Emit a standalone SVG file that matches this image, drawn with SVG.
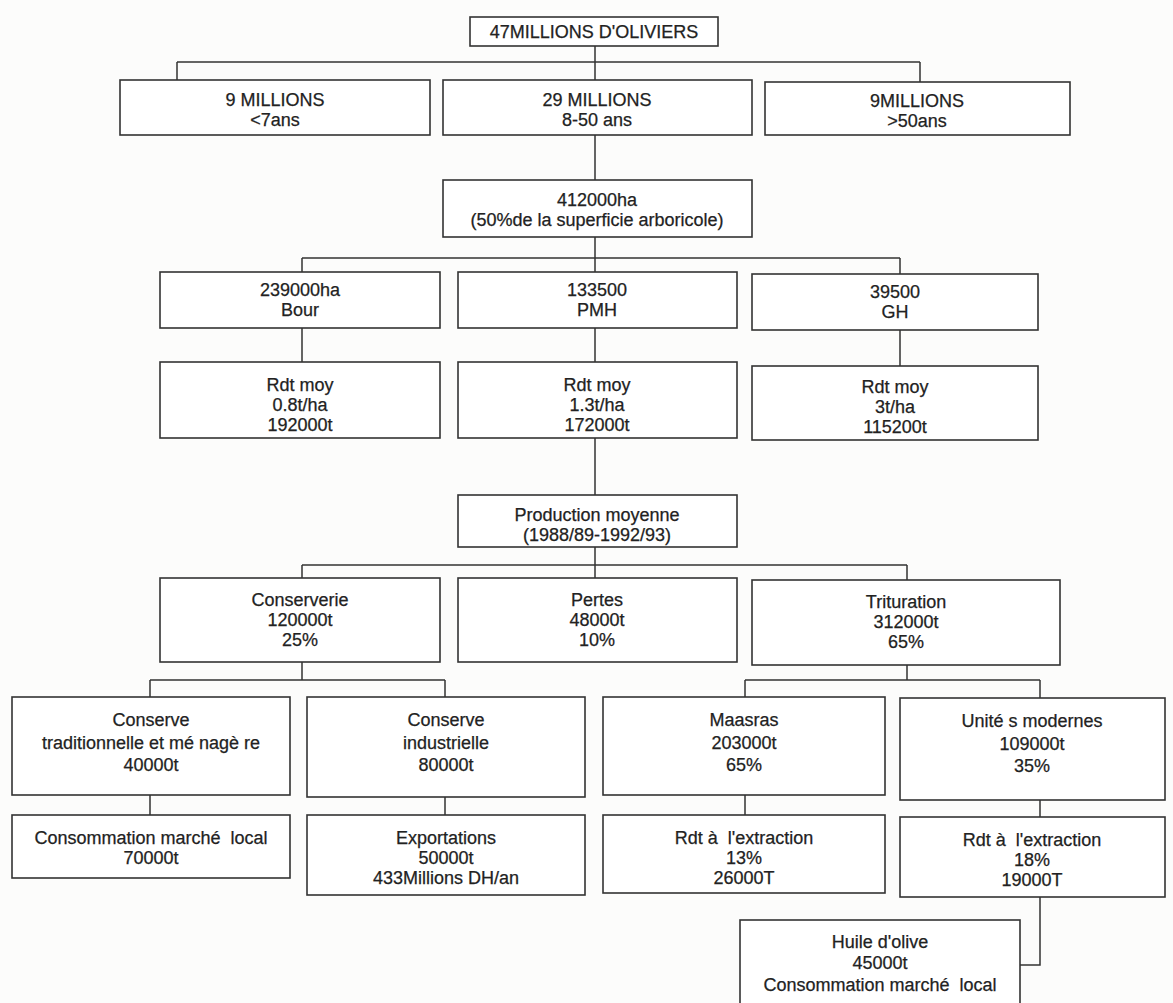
<svg xmlns="http://www.w3.org/2000/svg" width="1173" height="1003" viewBox="0 0 1173 1003">
<style>
.b{fill:#ffffff;stroke:#333;stroke-width:1.6}
.t{font-family:"Liberation Sans",Arial,sans-serif;font-size:18px;fill:#222;stroke:#222;stroke-width:0.25;text-anchor:middle}
.c{fill:none;stroke:#333;stroke-width:1.5}
</style>
<rect width="1173" height="1003" fill="#fcfcfb"/>
<g id="connectors">
<path class="c" d="M595 46V62M177 62H920M177 62V80M595 62V80M920 62V82"/>
<path class="c" d="M595 135V180"/>
<path class="c" d="M595 237V258M302 258H900M302 258V272M595 258V272M900 258V274"/>
<path class="c" d="M302 328V362M595 328V362M900 330V366"/>
<path class="c" d="M595 438V495"/>
<path class="c" d="M595 547V565M302 565H907M302 565V578M595 565V578M907 565V580"/>
<path class="c" d="M302 662V680M150 680H445M150 680V697M445 680V697"/>
<path class="c" d="M907 665V680M745 680H1040M745 680V697M1040 680V698"/>
<path class="c" d="M150 795V815M445 797V815M745 795V815M1040 800V817"/>
<path class="c" d="M1040 897V965H1020"/>
</g>
<g id="n0"><rect class="b" x="470" y="17" width="248" height="29"/><text class="t" x="594" y="38">47MILLIONS D'OLIVIERS</text></g>
<g id="n1a"><rect class="b" x="120" y="80" width="310" height="55"/><text class="t" x="275" y="106">9 MILLIONS</text><text class="t" x="275" y="126">&lt;7ans</text></g>
<g id="n1b"><rect class="b" x="443" y="80" width="309" height="55"/><text class="t" x="597" y="106">29 MILLIONS</text><text class="t" x="597" y="126">8-50 ans</text></g>
<g id="n1c"><rect class="b" x="765" y="82" width="305" height="53"/><text class="t" x="917" y="107">9MILLIONS</text><text class="t" x="917" y="127">&gt;50ans</text></g>
<g id="n2"><rect class="b" x="443" y="180" width="309" height="57"/><text class="t" x="597" y="206">412000ha</text><text class="t" x="597" y="226">(50%de la superficie arboricole)</text></g>
<g id="n3a"><rect class="b" x="160" y="272" width="280" height="56"/><text class="t" x="300" y="296">239000ha</text><text class="t" x="300" y="316">Bour</text></g>
<g id="n3b"><rect class="b" x="458" y="272" width="279" height="56"/><text class="t" x="597" y="296">133500</text><text class="t" x="597" y="316">PMH</text></g>
<g id="n3c"><rect class="b" x="752" y="274" width="286" height="56"/><text class="t" x="895" y="298">39500</text><text class="t" x="895" y="318">GH</text></g>
<g id="n4a"><rect class="b" x="160" y="362" width="280" height="76"/><text class="t" x="300" y="391">Rdt moy</text><text class="t" x="300" y="411">0.8t/ha</text><text class="t" x="300" y="431">192000t</text></g>
<g id="n4b"><rect class="b" x="458" y="362" width="279" height="76"/><text class="t" x="597" y="391">Rdt moy</text><text class="t" x="597" y="411">1.3t/ha</text><text class="t" x="597" y="431">172000t</text></g>
<g id="n4c"><rect class="b" x="752" y="366" width="286" height="74"/><text class="t" x="895" y="393">Rdt moy</text><text class="t" x="895" y="413">3t/ha</text><text class="t" x="895" y="433">115200t</text></g>
<g id="n5"><rect class="b" x="458" y="495" width="279" height="52"/><text class="t" x="597" y="521">Production moyenne</text><text class="t" x="597" y="541">(1988/89-1992/93)</text></g>
<g id="n6a"><rect class="b" x="160" y="578" width="280" height="84"/><text class="t" x="300" y="606">Conserverie</text><text class="t" x="300" y="626">120000t</text><text class="t" x="300" y="646">25%</text></g>
<g id="n6b"><rect class="b" x="458" y="578" width="279" height="84"/><text class="t" x="597" y="606">Pertes</text><text class="t" x="597" y="626">48000t</text><text class="t" x="597" y="646">10%</text></g>
<g id="n6c"><rect class="b" x="752" y="580" width="308" height="85"/><text class="t" x="906" y="608">Trituration</text><text class="t" x="906" y="628">312000t</text><text class="t" x="906" y="648">65%</text></g>
<g id="n7a"><rect class="b" x="12" y="697" width="278" height="98"/><text class="t" x="151" y="726">Conserve</text><text class="t" x="151" y="749">traditionnelle et mé nagè re</text><text class="t" x="151" y="771">40000t</text></g>
<g id="n7b"><rect class="b" x="307" y="697" width="278" height="100"/><text class="t" x="446" y="726">Conserve</text><text class="t" x="446" y="749">industrielle</text><text class="t" x="446" y="771">80000t</text></g>
<g id="n7c"><rect class="b" x="603" y="697" width="282" height="98"/><text class="t" x="744" y="726">Maasras</text><text class="t" x="744" y="749">203000t</text><text class="t" x="744" y="771">65%</text></g>
<g id="n7d"><rect class="b" x="900" y="698" width="265" height="102"/><text class="t" x="1032" y="727">Unité s modernes</text><text class="t" x="1032" y="750">109000t</text><text class="t" x="1032" y="772">35%</text></g>
<g id="n8a"><rect class="b" x="12" y="815" width="278" height="63"/><text class="t" x="151" y="844" xml:space="preserve">Consommation marché  local</text><text class="t" x="151" y="864">70000t</text></g>
<g id="n8b"><rect class="b" x="307" y="815" width="278" height="80"/><text class="t" x="446" y="844">Exportations</text><text class="t" x="446" y="864">50000t</text><text class="t" x="446" y="884">433Millions DH/an</text></g>
<g id="n8c"><rect class="b" x="603" y="815" width="282" height="78"/><text class="t" x="744" y="844" xml:space="preserve">Rdt à  l'extraction</text><text class="t" x="744" y="864">13%</text><text class="t" x="744" y="884">26000T</text></g>
<g id="n8d"><rect class="b" x="900" y="817" width="265" height="80"/><text class="t" x="1032" y="846" xml:space="preserve">Rdt à  l'extraction</text><text class="t" x="1032" y="866">18%</text><text class="t" x="1032" y="886">19000T</text></g>
<g id="n9"><rect class="b" x="740" y="920" width="280" height="100"/><text class="t" x="880" y="948">Huile d'olive</text><text class="t" x="880" y="969">45000t</text><text class="t" x="880" y="991" xml:space="preserve">Consommation marché  local</text></g>
</svg>
